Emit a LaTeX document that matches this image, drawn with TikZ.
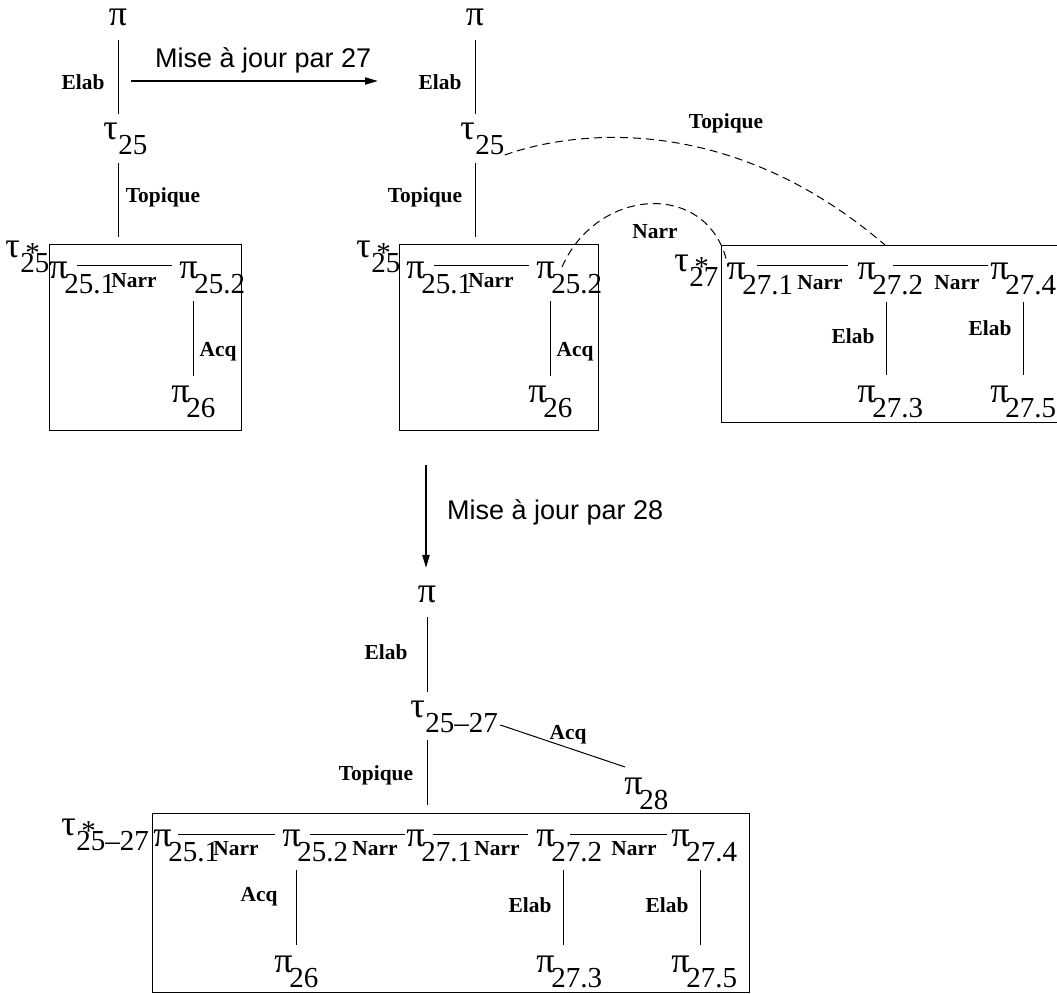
\documentclass[tikz,border=0pt]{standalone}
\usepackage{fontspec}
\setmainfont{Liberation Serif}
\setsansfont{Liberation Sans}
\usepackage{tikz}
\usetikzlibrary{positioning,arrows.meta,calc}

\newcommand{\grk}{\fontsize{18}{19}\selectfont}
\newcommand{\sbs}[2]{\rlap{\grk #1}\kern7.5pt\raisebox{-0.5em}{#2}}
\newcommand{\sbst}[2]{\rlap{\grk #1}\kern7.5pt\rlap{\kern2.5pt\raisebox{-0.14em}{*}}\raisebox{-0.5em}{#2}}

\begin{document}
\begin{tikzpicture}[
  x=0.5pt, y=-0.5pt,
  sym_node/.style={anchor=base west, inner sep=0pt, font=\fontsize{14.5}{16}\selectfont},
  rel_lab/.style={font=\fontsize{10.7}{12}\selectfont\bfseries},
  upd_lab/.style={anchor=base west, font=\sffamily\fontsize{13.5}{15}\selectfont},
  sdrt_box/.style={draw, line width=0.5pt, inner sep=0pt},
  rel_line/.style={line width=0.5pt},
  rel_dash/.style={line width=0.5pt, dash pattern=on 4pt off 2.5pt},
  upd_arr/.style={line width=1pt, -{Triangle[length=6.5pt,width=3.5pt]}}
]
% Coordinates in pixels of the figure, y pointing down.
\useasboundingbox (0,0) rectangle (1057,994);

% --- Top left: structure of 25 ---
\begin{scope}
  \node[sym_node, anchor=base] (piA) at (118,26) {\grk π};
  \node[sym_node] (tauA) at (103,140) {\sbs{τ}{25}};
  \node[sdrt_box, minimum width=96pt, minimum height=93pt] (boxA) at (145,338) {};
  \node[sym_node] (tsA) at (5,258) {\sbst{τ}{25}};
  \node[sym_node] (pA251) at (49,279) {\sbs{π}{25.1}};
  \node[sym_node] (pA252) at (179,279) {\sbs{π}{25.2}};
  \node[sym_node] (pA26) at (171,403) {\sbs{π}{26}};
  \draw[rel_line] ($(piA.base)+(0,14)$) -- ($(piA.base |- tauA.base)+(0,-26)$);
  \draw[rel_line] ($(piA.base |- tauA.base)+(0,23)$) -- ($(piA.base |- boxA.north)+(0,-7)$);
  \draw[rel_line] ($(pA251.base west)+(28,-13)$) -- ($(pA252.base west)+(-7,-13)$);
  \draw[rel_line] ($(pA252.base west)+(14,22)$) -- ($(pA26.base west)+(22,-27)$);
  \node[rel_lab] (lA1) at (83,82) {Elab};
  \node[rel_lab] (lA2) at (163,197) {Topique};
  \node[rel_lab] (lA3) at (134,281) {Narr};
  \node[rel_lab] (lA4) at (218,352) {Acq};
\end{scope}

% --- Update by 27 ---
\coordinate (u27s) at (131,81);
\coordinate (u27e) at (378,81);
\draw[upd_arr] (u27s) -- (u27e);
\node[upd_lab] (u27) at (148,68) {Mise à jour par 27};

% --- Top right: 25 with the new segment 27 ---
\begin{scope}[shift={(357,0)}]
  \node[sym_node, anchor=base] (piB) at (118,26) {\grk π};
  \node[sym_node] (tauB) at (103,140) {\sbs{τ}{25}};
  \node[sdrt_box, minimum width=99.5pt, minimum height=93pt] (boxB) at (141.5,338) {};
  \node[sym_node] (tsB) at (-1,258) {\sbst{τ}{25}};
  \node[sym_node] (pB251) at (49,279) {\sbs{π}{25.1}};
  \node[sym_node] (pB252) at (179,279) {\sbs{π}{25.2}};
  \node[sym_node] (pB26) at (171,403) {\sbs{π}{26}};
  \draw[rel_line] ($(piB.base)+(0,14)$) -- ($(piB.base |- tauB.base)+(0,-26)$);
  \draw[rel_line] ($(piB.base |- tauB.base)+(0,23)$) -- ($(piB.base |- boxB.north)+(0,-7)$);
  \draw[rel_line] ($(pB251.base west)+(28,-13)$) -- ($(pB252.base west)+(-7,-13)$);
  \draw[rel_line] ($(pB252.base west)+(14,22)$) -- ($(pB26.base west)+(22,-27)$);
  \node[rel_lab] (lB1) at (83,82) {Elab};
  \node[rel_lab] (lB2) at (68,197) {Topique};
  \node[rel_lab] (lB3) at (134,281) {Narr};
  \node[rel_lab] (lB4) at (218,352) {Acq};
  % segment 27
  \node[sdrt_box, minimum width=174.5pt, minimum height=88.5pt] (boxB3) at (538.5,334.5) {};
  \node[sym_node] (tsB27) at (317,272) {\sbst{τ}{27}};
  \node[sym_node] (pB271) at (370,280) {\sbs{π}{27.1}};
  \node[sym_node] (pB272) at (500,280) {\sbs{π}{27.2}};
  \node[sym_node] (pB274) at (633,280) {\sbs{π}{27.4}};
  \node[sym_node] (pB273) at (500,403) {\sbs{π}{27.3}};
  \node[sym_node] (pB275) at (633,403) {\sbs{π}{27.5}};
  \draw[rel_line] ($(pB271.base west)+(30,-14)$) -- ($(pB272.base west)+(-9,-14)$);
  \draw[rel_line] ($(pB272.base west)+(36,-14)$) -- ($(pB274.base west)+(-2,-14)$);
  \draw[rel_line] ($(pB272.base west)+(29,22)$) -- ($(pB273.base west)+(29,-28)$);
  \draw[rel_line] ($(pB274.base west)+(33,22)$) -- ($(pB275.base west)+(33,-28)$);
  \node[rel_lab] (lB5) at (463,283) {Narr};
  \node[rel_lab] (lB6) at (600,283) {Narr};
  \node[rel_lab] (lB7) at (496,336) {Elab};
  \node[rel_lab] (lB8) at (633,328) {Elab};
  % links to be checked
  \draw[rel_dash] ($(tauB.base east)+(0,15)$) .. controls +(70,-25) and +(-155,-133) .. ($(pB272.base west)+(28,-35)$);
  \draw[rel_dash] ($(pB252.base west)+(26,-12)$) .. controls +(36,-82) and +(-16,-87) .. ($(pB271.base west)+(1,-13)$);
  \node[rel_lab] (lB9) at (369,123) {Topique};
  \node[rel_lab] (lB10) at (298,232) {Narr};
\end{scope}

% --- Update by 28 ---
\coordinate (u28s) at (426,465);
\coordinate (u28e) at (426,568);
\draw[upd_arr] (u28s) -- (u28e);
\node[upd_lab, anchor=west] (u28) at (440,512) {Mise à jour par 28};

% --- Bottom: merged structure 25--27 ---
\begin{scope}
  \node[sym_node, anchor=base] (piC) at (427,603) {\grk π};
  \node[sym_node] (tauC) at (410,718) {\sbs{τ}{25–27}};
  \node[sym_node] (pC28) at (624,795) {\sbs{π}{28}};
  \node[sdrt_box, minimum width=298.5pt, minimum height=89.5pt] (boxC) at (450.5,903.5) {};
  \node[sym_node] (tsC) at (61,836) {\sbst{τ}{25–27}};
  \node[sym_node] (pC251) at (153,847) {\sbs{π}{25.1}};
  \node[sym_node] (pC252) at (282,847) {\sbs{π}{25.2}};
  \node[sym_node] (pC271) at (406,847) {\sbs{π}{27.1}};
  \node[sym_node] (pC272) at (536,847) {\sbs{π}{27.2}};
  \node[sym_node] (pC274) at (671,847) {\sbs{π}{27.4}};
  \node[sym_node] (pC26) at (274,973) {\sbs{π}{26}};
  \node[sym_node] (pC273) at (536,973) {\sbs{π}{27.3}};
  \node[sym_node] (pC275) at (671,973) {\sbs{π}{27.5}};
  \draw[rel_line] ($(piC.base)+(0,14)$) -- ($(piC.base |- tauC.base)+(0,-26)$);
  \draw[rel_line] ($(piC.base |- tauC.base)+(0,22)$) -- ($(piC.base |- boxC.north)+(0,-8)$);
  \draw[rel_line] ($(tauC.base east)+(2,7)$) -- ($(pC28.base west)+(1,-28)$);
  \draw[rel_line] ($(pC251.base west)+(25,-12)$) -- ($(pC252.base west)+(-7,-12)$);
  \draw[rel_line] ($(pC252.base west)+(28,-12)$) -- ($(pC271.base west)+(-1,-12)$);
  \draw[rel_line] ($(pC271.base west)+(27,-12)$) -- ($(pC272.base west)+(-8,-12)$);
  \draw[rel_line] ($(pC272.base west)+(34,-12)$) -- ($(pC274.base west)+(-4,-12)$);
  \draw[rel_line] ($(pC252.base west)+(14,23)$) -- ($(pC26.base west)+(22,-28)$);
  \draw[rel_line] ($(pC272.base west)+(27,23)$) -- ($(pC273.base west)+(27,-28)$);
  \draw[rel_line] ($(pC274.base west)+(29,23)$) -- ($(pC275.base west)+(29,-28)$);
  \node[rel_lab] (lC1) at (386,652) {Elab};
  \node[rel_lab] (lC2) at (376,775) {Topique};
  \node[rel_lab] (lC3) at (568,735) {Acq};
  \node[rel_lab] (lC4) at (236,849) {Narr};
  \node[rel_lab] (lC5) at (375,849) {Narr};
  \node[rel_lab] (lC6) at (497,849) {Narr};
  \node[rel_lab] (lC7) at (634,849) {Narr};
  \node[rel_lab] (lC8) at (259,897) {Acq};
  \node[rel_lab] (lC9) at (530,905) {Elab};
  \node[rel_lab] (lC10) at (667,905) {Elab};
\end{scope}

\end{tikzpicture}
\end{document}
